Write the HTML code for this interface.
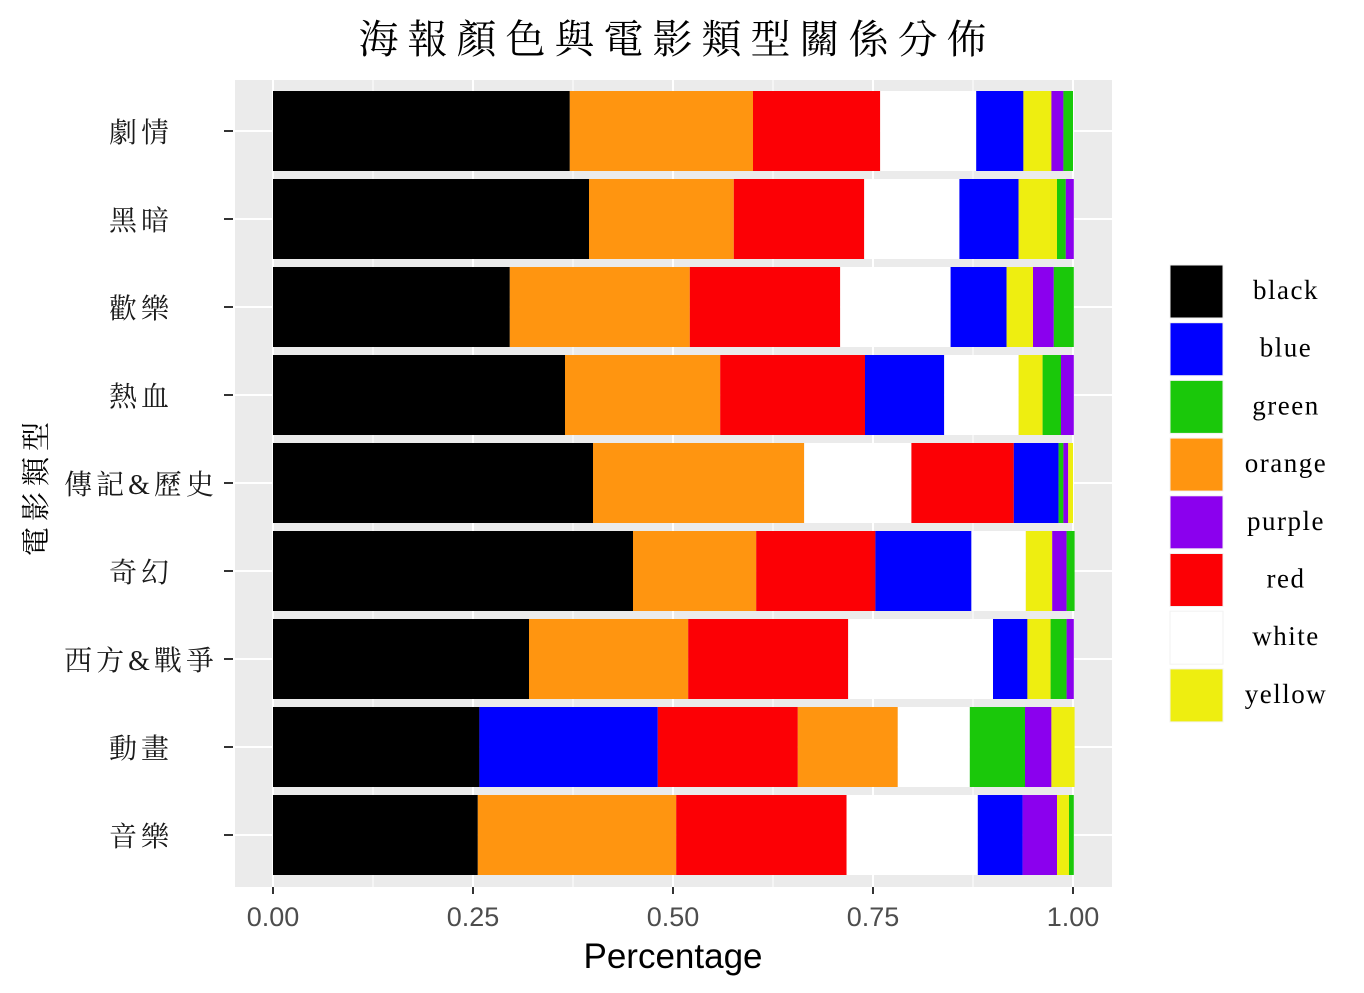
<!DOCTYPE html>
<html><head><meta charset="utf-8"><style>body{margin:0;background:#fff}svg{display:block}</style></head>
<body>
<svg id="chart" width="1364" height="993" xmlns="http://www.w3.org/2000/svg">
<text x="677" y="53" text-anchor="middle" letter-spacing="9" font-family="'Liberation Serif','Noto Serif CJK TC',serif" font-size="40" fill="#000">海報顏色與電影類型關係分佈</text>
<rect x="235" y="80" width="877" height="807" fill="#EBEBEB"/>
<g id="grid"></g><g id="bars"></g><g id="axes"></g><g id="legend"></g>
<text x="673" y="968" text-anchor="middle" font-family="'Liberation Sans',sans-serif" font-size="35" fill="#000">Percentage</text>
<text transform="translate(46,486) rotate(-90)" text-anchor="middle" letter-spacing="6" font-family="'Liberation Serif','Noto Serif CJK TC',serif" font-size="29" fill="#000">電影類型</text>
</svg>
<script>
const categories = ["劇情","黑暗","歡樂","熱血","傳記&歷史","奇幻","西方&戰爭","動畫","音樂"];
const seriesOrder = [
 ["black","orange","red","white","blue","yellow","purple","green"],
 ["black","orange","red","white","blue","yellow","green","purple"],
 ["black","orange","red","white","blue","yellow","purple","green"],
 ["black","orange","red","blue","white","yellow","green","purple"],
 ["black","orange","white","red","blue","green","purple","yellow"],
 ["black","orange","red","blue","white","yellow","purple","green"],
 ["black","orange","red","white","blue","yellow","green","purple"],
 ["black","blue","red","orange","white","green","purple","yellow"],
 ["black","orange","red","white","blue","purple","yellow","green"]
];
const seriesValues = [
 [.371,.229,.159,.120,.059,.035,.015,.012],
 [.395,.181,.163,.119,.074,.048,.011,.010],
 [.296,.225,.188,.138,.070,.033,.026,.025],
 [.365,.194,.181,.099,.093,.030,.023,.016],
 [.400,.264,.134,.128,.056,.006,.006,.006],
 [.450,.154,.149,.120,.068,.033,.018,.010],
 [.320,.199,.200,.181,.043,.029,.020,.009],
 [.258,.223,.175,.125,.090,.069,.033,.029],
 [.256,.248,.213,.164,.056,.043,.015,.006]
];
const xTicks = [0,0.25,0.5,0.75,1];
const xTickLabels = ["0.00","0.25","0.50","0.75","1.00"];
const legendKeys = ["black","blue","green","orange","purple","red","white","yellow"];
const colors = {black:"#000000",blue:"#0000FF",green:"#1AC80A",orange:"#FF9510",purple:"#8B00EE",red:"#FC0005",white:"#FFFFFF",yellow:"#EEEE10"};
const NS="http://www.w3.org/2000/svg";
const xs=v=>273+v*800;
const ys=i=>131+i*88;
function mk(tag,attrs,parent){const e=document.createElementNS(NS,tag);for(const k in attrs)e.setAttribute(k,attrs[k]);parent.appendChild(e);return e;}
const grid=document.getElementById('grid'),bars=document.getElementById('bars'),axes=document.getElementById('axes'),legend=document.getElementById('legend');
for(let i=0;i<xTicks.length-1;i++){const l=mk('line',{x1:xs((xTicks[i]+xTicks[i+1])/2),x2:xs((xTicks[i]+xTicks[i+1])/2),y1:80,y2:887,stroke:"#fff","stroke-width":1},grid);

}
xTicks.forEach((t,i)=>{const l=mk('line',{x1:xs(t),x2:xs(t),y1:80,y2:887,stroke:"#fff","stroke-width":2},grid);


const tk=mk('line',{x1:xs(t),x2:xs(t),y1:887,y2:894,stroke:"#333","stroke-width":2},axes);


const tx=mk('text',{x:xs(t),y:926,"text-anchor":"middle","font-family":"'Liberation Sans',sans-serif","font-size":27,fill:"#4d4d4d"},axes);
tx.textContent=xTickLabels[i];

});
categories.forEach((c,i)=>{const y=ys(i);
const g=mk('line',{x1:235,x2:1112,y1:y,y2:y,stroke:"#fff","stroke-width":2},grid);


let acc=0;seriesValues[i].forEach((v,j)=>{const r=mk('rect',{x:xs(acc),y:y-40,width:v*800,height:80,fill:colors[seriesOrder[i][j]]},bars);


acc+=v;});
const tk=mk('line',{x1:224,x2:233,y1:y,y2:y,stroke:"#333","stroke-width":2},axes);


const tx=mk('text',{x:141,y:y+11,"text-anchor":"middle","letter-spacing":4,"font-family":"'Liberation Serif','Noto Serif CJK TC',serif","font-size":28,fill:"#1a1a1a"},axes);
tx.textContent=c;

});
legendKeys.forEach((k,i)=>{const y=265+i*57.7;
const r=mk('rect',{x:1170,y:y,width:53,height:53,fill:colors[k],stroke:"#f2f2f2","stroke-width":1},legend);


const t=mk('text',{x:1286,y:y+34,"text-anchor":"middle","letter-spacing":1.5,"font-family":"'Liberation Serif',serif","font-size":27,fill:"#000"},legend);
t.textContent=k;

});
</script>
</body></html>
